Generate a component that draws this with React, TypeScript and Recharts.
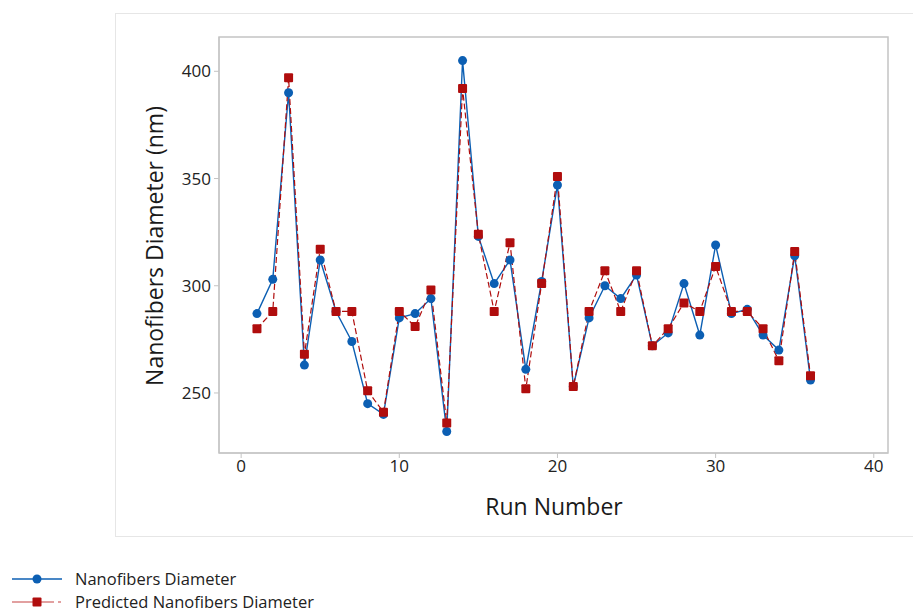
import { LineChart, Line, XAxis, YAxis, ReferenceArea } from "recharts";

const runs = [1, 2, 3, 4, 5, 6, 7, 8, 9, 10, 11, 12, 13, 14, 15, 16, 17, 18, 19, 20, 21, 22, 23, 24, 25, 26, 27, 28, 29, 30, 31, 32, 33, 34, 35, 36];
const measured = [287, 303, 390, 263, 312, 288, 274, 245, 240, 285, 287, 294, 232, 405, 323, 301, 312, 261, 302, 347, 253, 285, 300, 294, 305, 272, 278, 301, 277, 319, 287, 289, 277, 270, 314, 256];
const predicted = [280, 288, 397, 268, 317, 288, 288, 251, 241, 288, 281, 298, 236, 392, 324, 288, 320, 252, 301, 351, 253, 288, 307, 288, 307, 272, 280, 292, 288, 309, 288, 288, 280, 265, 316, 258];
const xTicks = [0, 10, 20, 30, 40];
const yTicks = [250, 300, 350, 400];

const data = runs.map((run, i) => ({
  run,
  measured: measured[i],
  predicted: predicted[i],
}));

const BLUE = "#0c5fb3";
const RED = "#b00d0d";
const FRAME = "#c4c4c4";
const FONT = "'Open Sans', 'Noto Sans', sans-serif";

const SquareDot = (props: any) => {
  const { cx, cy, index } = props;
  if (cx == null || cy == null) return null;
  return <rect key={index} x={cx - 4.5} y={cy - 4.5} width={9} height={9} rx={1} fill={RED} />;
};

const CircleDot = (props: any) => {
  const { cx, cy, index } = props;
  if (cx == null || cy == null) return null;
  return <circle key={index} cx={cx} cy={cy} r={4.5} fill={BLUE} />;
};

export default function App() {
  return (
    <div style={{ position: "fixed", left: 0, top: 0, width: 913, height: 614, background: "#fff", fontFamily: FONT, overflow: "hidden" }}>
      <div style={{ position: "absolute", left: 115, top: 13, width: 820, height: 524, border: "1px solid #e6e6e6", boxSizing: "border-box" }} />
      <div style={{ position: "absolute", left: 0, top: 0 }}>
        <LineChart width={913} height={614} data={data} margin={{ top: 37, right: 25, left: 101, bottom: 131 }}>
          <ReferenceArea x1={-1.4} x2={40.9} y1={222} y2={416} fill="none" stroke={FRAME} strokeWidth={1.5} />
          <XAxis
            dataKey="run"
            type="number"
            domain={[-1.4, 40.9]}
            ticks={xTicks}
            allowDataOverflow
            height={30}
            tickSize={5}
            tickMargin={2}
            stroke={FRAME}
            tick={{ fill: "#222", fontSize: 17, fontFamily: FONT }}
            label={{
              content: () => (
                <text x={554} y={515} textAnchor="middle" fontSize={23} fill="#1a1a1a" fontFamily={FONT}>
                  Run Number
                </text>
              ),
            }}
          />
          <YAxis
            type="number"
            domain={[222, 416]}
            ticks={yTicks}
            allowDataOverflow
            width={118}
            tickSize={5}
            tickMargin={3}
            stroke={FRAME}
            tick={{ fill: "#222", fontSize: 17, fontFamily: FONT }}
            label={{
              content: () => (
                <text x={163} y={246} transform="rotate(-90,163,246)" textAnchor="middle" fontSize={23} fill="#1a1a1a" fontFamily={FONT}>
                  Nanofibers Diameter (nm)
                </text>
              ),
            }}
          />
          <Line dataKey="measured" stroke={BLUE} strokeWidth={1.4} dot={CircleDot} isAnimationActive={false} />
          <Line dataKey="predicted" stroke={RED} strokeWidth={1.2} strokeDasharray="6 3" dot={SquareDot} isAnimationActive={false} />
        </LineChart>
      </div>
      <div style={{ position: "absolute", left: 10, top: 568, fontSize: 16.5, color: "#222", lineHeight: "22px" }}>
        <div style={{ display: "flex", alignItems: "center", height: 22 }}>
          <svg width={55} height={14}>
            <line x1={2} y1={7} x2={52} y2={7} stroke={BLUE} strokeWidth={1.5} />
            <circle cx={27} cy={7} r={4.5} fill={BLUE} />
          </svg>
          <span style={{ marginLeft: 10 }}>Nanofibers Diameter</span>
        </div>
        <div style={{ display: "flex", alignItems: "center", height: 22, marginTop: 1 }}>
          <svg width={55} height={14}>
            <line x1={2} y1={7} x2={44} y2={7} stroke="#d98080" strokeWidth={1.5} />
            <line x1={48} y1={7} x2={51} y2={7} stroke="#d98080" strokeWidth={1.5} />
            <rect x={22.5} y={2.5} width={9} height={9} rx={1} fill={RED} />
          </svg>
          <span style={{ marginLeft: 10 }}>Predicted Nanofibers Diameter</span>
        </div>
      </div>
    </div>
  );
}
